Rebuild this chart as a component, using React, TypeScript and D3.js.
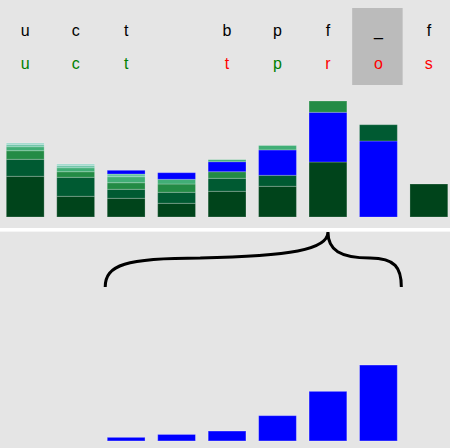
import React from "react";
import * as d3 from "d3";

// Column letters: current word letters and next predicted letters
const currentLetters = ["u", "c", "t", "", "b", "p", "f", "_", "f"];
const nextLetters = ["u", "c", "t", "", "t", "p", "r", "o", "s"];
const nextCorrect = [true, true, true, null, false, true, false, false, false];

// Stacked segment values per column (bottom to top)
const segValues = [
  [40.7, 17, 8.6, 4, 2, 1.7],
  [20.7, 19, 5.6, 4, 2, 1.7],
  [18.7, 9, 6.6, 6, 2.7, 3.7],
  [13.7, 11, 8.3, 4.7, 6.6],
  [25.7, 13, 6.6, 10, 2],
  [30.7, 11, 25.4, 4.4],
  [55, 49.7, 11.3],
  [76, 16.3],
  [33],
];
// shade rank per segment; -1 marks the highlighted (blue) series
const segShades = [
  [0, 1, 2, 3, 4, 5],
  [0, 1, 2, 3, 4, 5],
  [0, 1, 2, 3, 4, -1],
  [0, 1, 2, 3, -1],
  [0, 1, 2, -1, 3],
  [0, 1, -1, 3],
  [0, -1, 2],
  [-1, 1],
  [0],
];
const hoveredColumn = 6;
const selectedColumn = 7;

const shades = ["#00441b", "#005a32", "#238b45", "#41ae76", "#66c2a4", "#99d8c9"];
const HIGHLIGHT = "#0000ff";

export default function App() {
  const W = 450;
  const H = 448;
  const n = currentLetters.length;
  const x = d3
    .scaleBand<number>()
    .domain(d3.range(n))
    .range([0, 454.1])
    .paddingInner(0.25)
    .paddingOuter(0.125);
  const bw = x.bandwidth();
  const step = x.step();
  const maxTotal = d3.max(segValues, (s) => d3.sum(s)) as number;
  const yTop = d3.scaleLinear().domain([0, maxTotal]).range([217, 101]);
  const yBot = d3.scaleLinear().domain([0, maxTotal]).range([441, 325]);

  const stacked = segValues.map((vals, i) => {
    let acc = 0;
    return vals.map((v, j) => {
      const y0 = acc;
      acc += v;
      return { col: i, y0, y1: acc, v, shade: segShades[i][j] };
    });
  });

  const highlighted = stacked
    .map((segs) => segs.find((s) => s.shade === -1))
    .filter((s) => s) as { col: number; v: number }[];

  const firstCol = highlighted[0].col;
  const lastCol = highlighted[highlighted.length - 1].col;
  const bx1 = (x(firstCol) as number) - 2;
  const bx2 = (x(lastCol) as number) + bw + 4;
  const bm = (x(hoveredColumn) as number) + bw / 2;
  const bTop = 232;
  const bBot = 287;
  const bMid = 258;
  const brace =
    `M${bx1},${bBot} C${bx1},${bMid + 7} ${bx1 + 20},${bMid} ${bx1 + 95},${bMid}` +
    ` C${bm - 38},${bMid - 2} ${bm},${bMid - 8} ${bm},${bTop}` +
    ` C${bm},${bMid - 8} ${bm + 12},${bMid} ${bm + 42},${bMid}` +
    ` C${bx2 - 6},${bMid} ${bx2},${bMid + 10} ${bx2},${bBot}`;

  const font = "'Liberation Sans', Arial, Helvetica, sans-serif";

  return (
    <div style={{ position: "absolute", left: 0, top: 0 }}>
      <svg width={W} height={H} style={{ display: "block" }}>
        <rect x={0} y={0} width={W} height={H} fill="#e5e5e5" />
        <rect x={0} y={228} width={W} height={3.6} fill="#ffffff" />
        <rect
          x={(x(selectedColumn) as number) - (step - bw) / 2 - 1}
          y={8}
          width={step}
          height={77}
          fill="#bbbbbb"
        />
        {currentLetters.map((l, i) => (
          <text
            key={"a" + i}
            x={(x(i) as number) + bw / 2}
            y={36}
            textAnchor="middle"
            fontFamily={font}
            fontSize={16}
            fill="#000"
          >
            {l}
          </text>
        ))}
        {nextLetters.map((l, i) => (
          <text
            key={"b" + i}
            x={(x(i) as number) + bw / 2}
            y={69}
            textAnchor="middle"
            fontFamily={font}
            fontSize={16}
            fill={nextCorrect[i] ? "#008000" : "#ff0000"}
          >
            {l}
          </text>
        ))}
        {stacked.map((segs, i) =>
          segs.map((s, j) => (
            <rect
              key={`s${i}-${j}`}
              x={x(i) as number}
              y={yTop(s.y1)}
              width={bw}
              height={yTop(s.y0) - yTop(s.y1)}
              fill={s.shade === -1 ? HIGHLIGHT : shades[s.shade]}
              stroke="#ffffff"
              strokeOpacity={0.22}
              strokeWidth={1}
            />
          ))
        )}
        <path d={brace} fill="none" stroke="#000" strokeWidth={3} />
        {highlighted.map((s) => (
          <rect
            key={"h" + s.col}
            x={x(s.col) as number}
            y={yBot(s.v)}
            width={bw}
            height={yBot(0) - yBot(s.v)}
            fill={HIGHLIGHT}
            stroke="#ffffff"
            strokeOpacity={0.35}
            strokeWidth={1}
          />
        ))}
      </svg>
    </div>
  );
}
